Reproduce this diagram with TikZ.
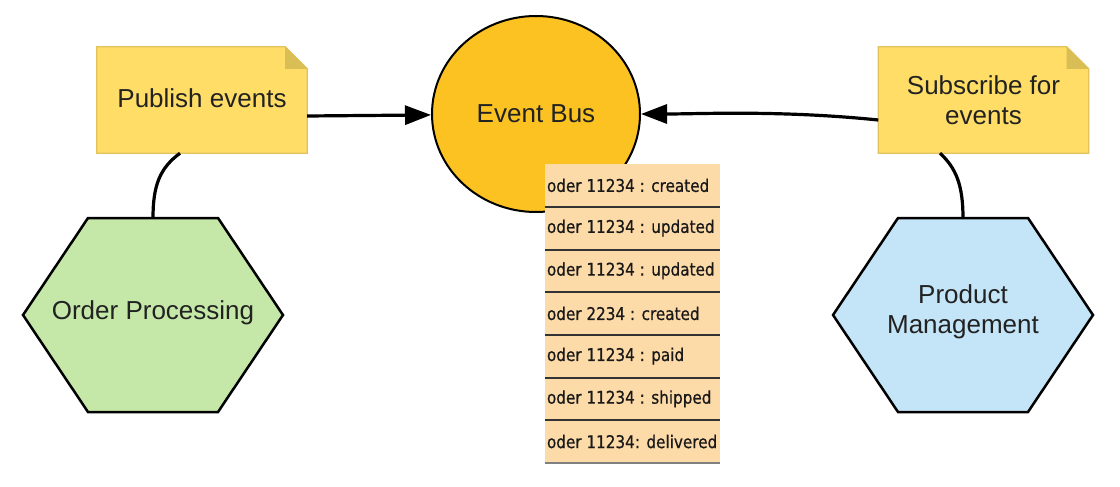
\documentclass[tikz,border=0pt]{standalone}
\usepackage{fontspec}
\setmainfont{Liberation Sans}
\newfontfamily\listfont[FakeStretch=0.87,FakeBold=0.6]{DejaVu Sans}
\usetikzlibrary{arrows.meta,shapes.geometric,calc,backgrounds}
\definecolor{notefill}{HTML}{FFDD66}
\definecolor{noteedge}{HTML}{E2C25C}
\definecolor{notefold}{HTML}{D8BE55}
\definecolor{busfill}{HTML}{FBC222}
\definecolor{greenfill}{HTML}{C5E8A8}
\definecolor{bluefill}{HTML}{C4E4F7}
\definecolor{listfill}{HTML}{FDDBA8}
\definecolor{txt}{HTML}{222222}
\newcommand{\drawnote}[1]{%
  \filldraw[notebox] (#1.south west) -- (#1.north west) -- ($(#1.north east)+(-22,0)$) -- ($(#1.north east)+(0,22)$) -- (#1.south east) -- cycle;
  \fill[notefold] ($(#1.north east)+(-22,0)$) -- ($(#1.north east)+(-22,22)$) -- ($(#1.north east)+(0,22)$) -- cycle;}
\newcommand{\drawhex}[2]{%
  \filldraw[hexbox,fill=#2] (#1) ++(-130,0) -- ++(65,-97) -- ++(130,0) -- ++(65,97) -- ++(-65,97) -- ++(-130,0) -- cycle;}
\newcommand{\evtext}[1]{\makebox[171pt][l]{#1}}
\begin{document}
\begin{tikzpicture}[x=1pt,y=-1pt,
  bigtext/.style={font=\fontsize{26}{30}\selectfont, text=txt},
  notenode/.style={bigtext, minimum width=210pt, minimum height=106pt, inner sep=0pt, align=center},
  notebox/.style={fill=notefill, draw=noteedge, line width=1.2pt},
  hexbox/.style={draw=black, line width=2.5pt, line join=miter},
  hextext/.style={bigtext, align=center, inner sep=0pt},
  busnode/.style={bigtext, ellipse, draw=black, line width=2pt, fill=busfill, minimum width=208pt, minimum height=196pt, inner sep=0pt},
  evrow/.style={fill=listfill, inner xsep=2pt, inner ysep=0pt, minimum height=42.7pt, minimum width=175pt, font=\listfont\fontsize{17.5}{20}\selectfont, text=black!90},
  sepline/.style={draw=black!80, line width=2pt},
  conn/.style={line width=3.2pt, draw=black},
  arr/.style={conn, -{Triangle[length=26pt,width=19pt]}}
]
\useasboundingbox (0,0) rectangle (1120,487);

% hexagon centres
\coordinate (hexL) at (153,315);
\coordinate (hexR) at (963,315);
\coordinate (hexLtop) at (153,218);
\coordinate (hexRtop) at (963,218);

% nodes
\node[notenode] (pub) at (202,100) {\raisebox{3pt}{Publish events}};
\node[notenode] (sub) at (983.5,100) {Subscribe for\\events};
\node[hextext] (op) at (153,313) {Order Processing};
\node[hextext] (pm) at (963,312) {Product\\Management};
\node[busnode] (bus) at (536,114) {Event Bus};

% event list
\node[evrow] (r1) at (632.5,185.35) {\evtext{oder 11234 : created}};
\node[evrow] (r2) at (632.5,228.05) {\evtext{oder 11234 : updated}};
\node[evrow] (r3) at (632.5,270.75) {\evtext{oder 11234 : updated}};
\node[evrow] (r4) at (632.5,313.45) {\evtext{oder 2234 : created}};
\node[evrow] (r5) at (632.5,356.15) {\evtext{oder 11234 : paid}};
\node[evrow] (r6) at (632.5,398.85) {\evtext{oder 11234 : shipped}};
\node[evrow] (r7) at (632.5,441.55) {\evtext{oder 11234: delivered}};
\foreach \r in {r1,r2,r3,r4,r5,r6}{
  \draw[sepline] (\r.south west) -- (\r.south east);
}
\draw[sepline, draw=black!50] (r7.south west) -- (r7.south east);

\begin{pgfonlayer}{background}
  \drawnote{pub}
  \drawnote{sub}
  \drawhex{hexL}{greenfill}
  \drawhex{hexR}{bluefill}
\end{pgfonlayer}

% connectors
\draw[arr] ([yshift=-16pt]pub.east) -- (bus);
\draw[arr] ([yshift=-20pt]sub.west) .. controls (780,110) and (700,114) .. (bus.east);
\draw[conn] ([xshift=-22pt]pub.south) .. controls (160,168) and (153,185) .. (hexLtop);
\draw[conn] ([xshift=-43.5pt]sub.south) .. controls (956,168) and (963,185) .. (hexRtop);
\end{tikzpicture}
\end{document}
